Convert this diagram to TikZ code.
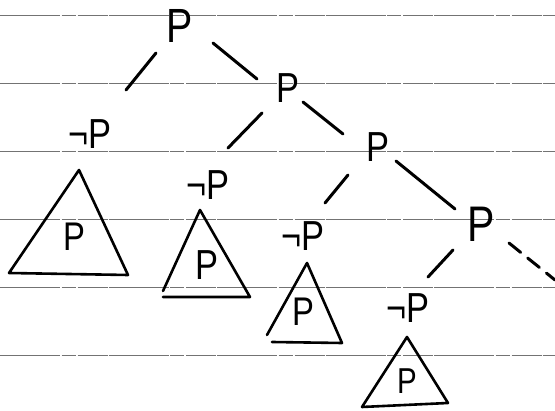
\documentclass[tikz,border=0pt]{standalone}
\usepackage{fontspec}
\usepackage{graphicx}
\setmainfont{Liberation Sans}
\usetikzlibrary{calc}
\newcommand\hw[2]{\scalebox{0.82}[1]{\fontsize{#1}{#1}\selectfont #2}}
\tikzset{
  lbl/.style={inner sep=0pt, outer sep=0pt, text=black},
  edge/.style={line width=3pt, line cap=round, black},
  tri/.style={line width=2.6pt, line join=round, line cap=round, black},
  ruled/.style={line width=1pt, black!55, dash pattern=on 60pt off 1.5pt on 14pt off 2pt on 30pt off 1pt},
}
\begin{document}
\begin{tikzpicture}[x=1pt,y=-1pt]
\fill[white] (0,0) rectangle (555,411);
\useasboundingbox (0,0) rectangle (555,411);
% ruled paper lines
\foreach \yy in {16,84,152,220,288,356}
  \draw[ruled] (0,\yy) -- (555,\yy);
% tree nodes
\node[lbl] (r)  at (180,26)  {\hw{48}{P}};
\node[lbl] (n1) at (90,134)  {\hw{42}{¬P}};
\node[lbl] (p2) at (288,88)  {\hw{42}{P}};
\node[lbl] (n2) at (208,185) {\hw{42}{¬P}};
\node[lbl] (p3) at (378,147) {\hw{42}{P}};
\node[lbl] (n3) at (303,236) {\hw{42}{¬P}};
\node[lbl] (p4) at (481,224) {\hw{50}{P}};
\node[lbl] (n4) at (408,308) {\hw{42}{¬P}};
\coordinate (cont) at (555,280);
% edges
\draw[edge] ($(r)+(-24,27)$) -- ($(n1)+(36,-44)$);
\draw[edge] ($(r)+(33,17)$) -- ($(p2)+(-31,-9)$);
\draw[edge] ($(p2)+(-26,25)$) -- ($(n2)+(20,-37)$);
\draw[edge] ($(p2)+(15,14)$) -- ($(p3)+(-35,-13)$);
\draw[edge] ($(p3)+(-30,28)$) -- ($(n3)+(22,-33)$);
\draw[edge] ($(p3)+(18,14)$) -- ($(p4)+(-26,-15)$);
\draw[edge] ($(p4)+(-28,26)$) -- ($(n4)+(20,-31)$);
\draw[edge, dash pattern=on 15pt off 9pt] ($(p4)+(28,19)$) -- (cont);
% subtree triangles
\draw[tri] (79,170) -- (9,273) -- (128,275) -- cycle;
\node[lbl] (t1) at (74,237) {\hw{40}{P}};
\draw[tri] (163,291) -- (200,210) -- (250,297) -- (163,297);
\node[lbl] (t2) at (207,265) {\hw{42}{P}};
\draw[tri] (267,335) -- (307,263) -- (342,343) -- (272,342);
\node[lbl] (t3) at (303,312) {\hw{40}{P}};
\draw[tri] (407,337) -- (362,407) -- (448,403) -- cycle;
\node[lbl] (t4) at (407,381) {\hw{36}{P}};
\end{tikzpicture}
\end{document}
